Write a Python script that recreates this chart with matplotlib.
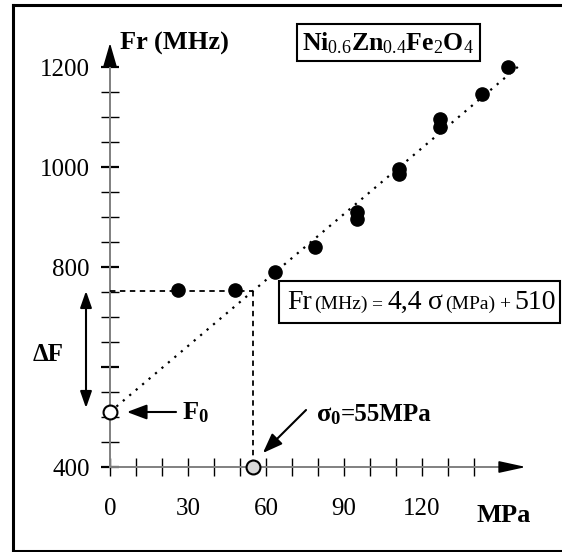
import numpy as np
import matplotlib
matplotlib.use("Agg")
import matplotlib.pyplot as plt
from matplotlib.patches import Rectangle
from matplotlib.lines import Line2D
from matplotlib.ticker import FixedLocator
import matplotlib.transforms as mtransforms

# =========================
# DATA
# =========================
stress = [26, 48, 63.5, 79, 95, 95, 111, 111, 127, 127, 143, 153]          # MPa
freq = [754, 754, 790, 841, 897, 911, 987, 997, 1081, 1097, 1147, 1200]     # MHz

slope = 4.4        # MHz / MPa
intercept = 510    # F0, MHz
sigma0 = 55        # MPa
fit_end = 157      # MPa

x_ticks = [0, 10, 20, 30, 40, 50, 60, 70, 80, 90, 100, 110, 120, 130, 140]
x_labels = ["0", "", "", "30", "", "", "60", "", "", "90", "", "", "120", "", ""]
y_major = [400, 600, 800, 1000, 1200]
y_labels = ["400", "", "800", "1000", "1200"]
y_minor = [450, 500, 550, 650, 700, 750, 850, 900, 950, 1050, 1100, 1150]

# =========================
# STYLE
# =========================
plt.rcParams["font.family"] = ["Liberation Serif", "DejaVu Serif"]
plt.rcParams["mathtext.fontset"] = "custom"
plt.rcParams["mathtext.rm"] = "Liberation Serif"
plt.rcParams["mathtext.bf"] = "Liberation Serif:bold"
plt.rcParams["mathtext.it"] = "Liberation Serif:italic"

W, H = 562, 552
fig = plt.figure(figsize=(W / 100, H / 100), dpi=100)
ax = fig.add_axes([0, 0, 1, 1])
ax.set_facecolor("none")
ax.set_xlim(-42.31, 173.85)
ax.set_ylim(230, 1334)

# axes drawn as crossing arrows
for s in ["top", "right"]:
    ax.spines[s].set_visible(False)
ax.spines["left"].set_position(("data", 0))
ax.spines["bottom"].set_position(("data", 400))
ax.spines["left"].set_bounds(400, 1215)
ax.spines["bottom"].set_bounds(0, 152)
for s in ["left", "bottom"]:
    ax.spines[s].set_color("#808080")
    ax.spines[s].set_linewidth(1.4)

ax.xaxis.set_major_locator(FixedLocator(x_ticks))
ax.set_xticklabels(x_labels)
ax.yaxis.set_major_locator(FixedLocator(y_major))
ax.set_yticklabels(y_labels)
ax.yaxis.set_minor_locator(FixedLocator(y_minor))

ax.tick_params(axis="x", which="major", direction="inout", length=13, width=1.0,
               color="black", labelsize=18, pad=16)
ax.tick_params(axis="y", which="major", direction="inout", length=13, width=1.6,
               color="black", labelsize=18, pad=8)
ax.tick_params(axis="y", which="minor", direction="inout", length=13, width=1.0,
               color="black")

arrow_kw = dict(color="black", lw=1.2, shrinkA=0, shrinkB=0)
ax.annotate("", xy=(0, 1248), xytext=(0, 1210),
            arrowprops=dict(arrowstyle="-|>,head_length=1.45,head_width=0.42", **arrow_kw))
ax.annotate("", xy=(160, 400), xytext=(150, 400),
            arrowprops=dict(arrowstyle="-|>,head_length=1.65,head_width=0.36", **arrow_kw))

# =========================
# DATA MARKS
# =========================
fit_x = np.array([0, fit_end])
ax.plot(fit_x, slope * fit_x + intercept, color="black", lw=1.6,
        linestyle=(0, (1, 2.8)), zorder=3)

level = slope * sigma0 + intercept
ax.plot([0, sigma0], [level, level], color="black", lw=1.3,
        linestyle=(0, (3, 2.5)), zorder=3)
ax.plot([sigma0, sigma0], [level, 400], color="black", lw=1.3,
        linestyle=(0, (3, 2.5)), zorder=3)

ax.plot(stress, freq, "o", ms=9.5, color="black", zorder=5)
ax.plot([0], [intercept], "o", ms=10, mfc="white", mec="black", mew=1.5,
        zorder=6, clip_on=False)
ax.plot([sigma0], [400], "o", ms=10, mfc="#d9d9d9", mec="black", mew=1.5,
        zorder=6, clip_on=False)


# =========================
# TEXT
# =========================
fig.canvas.draw()
renderer = fig.canvas.get_renderer()


def text_row(x, y, pieces, **kw):
    # lay pieces side by side on one baseline, each with its own size
    dx = 0
    for s, size, gap in pieces:
        dx += gap
        tr = mtransforms.offset_copy(ax.transData, fig=fig, x=dx, y=0, units="dots")
        t = ax.text(x, y, s, fontsize=size, ha="left", va="baseline",
                    transform=tr, zorder=5, **kw)
        dx += t.get_window_extent(renderer).width


ax.text(3.85, 1234, "Fr (MHz)", fontsize=19, fontweight="bold",
        ha="left", va="baseline")
ax.text(74, 1234, r"$\mathbf{Ni}_{0.6}\mathbf{Zn}_{0.4}\mathbf{Fe}_{2}\mathbf{O}_{4}$",
        fontsize=18.5, ha="left", va="baseline",
        bbox=dict(boxstyle="square,pad=0.22", fc="white", ec="black", lw=1.5))
ax.text(140.8, 291, "MPa", fontsize=19, fontweight="bold", ha="left", va="baseline")

# delta F
ax.annotate("", xy=(-9.23, 518), xytext=(-9.23, 752),
            arrowprops=dict(arrowstyle="<|-|>,head_length=1.0,head_width=0.35",
                            color="black", lw=1.5, shrinkA=0, shrinkB=0))
ax.text(-29.6, 612, "\u0394F", fontsize=18, fontweight="bold", ha="left", va="baseline")

# F0
ax.annotate("", xy=(6.5, 510), xytext=(25.4, 510),
            arrowprops=dict(arrowstyle="-|>,head_length=1.2,head_width=0.45",
                            color="black", lw=1.5, shrinkA=0, shrinkB=0))
ax.text(27.7, 495, r"$\mathbf{F}_{\mathbf{0}}$", fontsize=19, ha="left", va="baseline")

# sigma0
ax.annotate("", xy=(58.8, 428), xytext=(75.4, 514),
            arrowprops=dict(arrowstyle="-|>,head_length=1.2,head_width=0.45",
                            color="black", lw=1.5, shrinkA=0, shrinkB=0))
text_row(79.2, 492, [(r"$\mathbf{\sigma}_{\mathbf{0}}$", 19, 0), ("=55MPa", 18, 0)],
         fontweight="bold")

# fitted equation, mixed sizes
ax.add_patch(Rectangle((65, 688), 108.1, 84, fc="white", ec="black", lw=1.5, zorder=4))
text_row(68.0, 716, [("Fr", 20, 0), ("(MHz)", 14, 3), ("=", 14, 3), ("4,4", 20, 5),
                     ("\u03c3", 20, 6), ("(MPa)", 14, 3), ("+", 14, 3), ("510", 20, 5)])

# outer frame (its right edge falls outside the picture)
fx0, fx1, fy0, fy1 = 13 / W, 1.0, 1.5 / H, 1 - 5 / H
for xs, ys in [([fx0, fx0], [fy0, fy1]), ([fx0, fx1], [fy1, fy1]), ([fx0, fx1], [fy0, fy0])]:
    fig.add_artist(Line2D(xs, ys, transform=fig.transFigure, color="black", lw=2.2,
                          solid_capstyle="projecting"))

fig.savefig("out.png", dpi=100)
